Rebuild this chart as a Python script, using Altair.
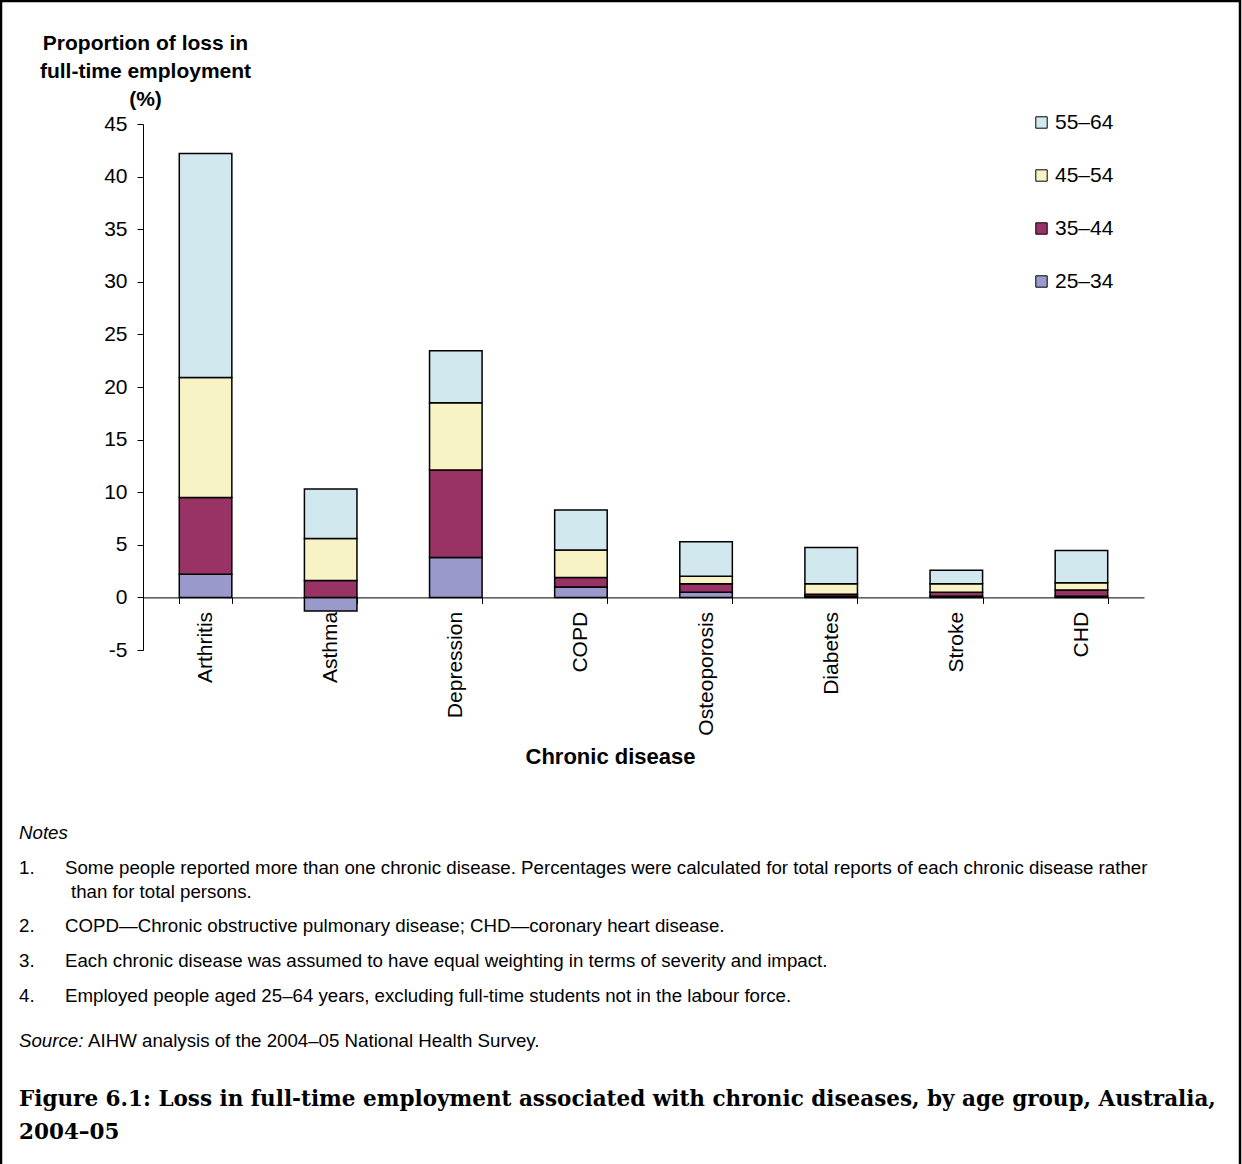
import altair as alt
import pandas as pd

categories = ["Arthritis", "Asthma", "Depression", "COPD", "Osteoporosis", "Diabetes", "Stroke", "CHD"]
age_groups = ["25–34", "35–44", "45–54", "55–64"]
v25_34 = [2.2, -1.3, 3.8, 1.0, 0.5, 0.1, 0.1, 0.1]
v35_44 = [7.3, 1.6, 8.3, 0.9, 0.8, 0.2, 0.4, 0.6]
v45_54 = [11.4, 4.0, 6.4, 2.6, 0.7, 1.0, 0.8, 0.7]
v55_64 = [21.3, 4.7, 4.95, 3.8, 3.3, 3.45, 1.27, 3.07]
colors = ["#9999CC", "#993366", "#F7F3C4", "#D0E8EE"]

series = [v25_34, v35_44, v45_54, v55_64]
rows = []
for gi, (g, vals) in enumerate(zip(age_groups, series)):
    for c, v in zip(categories, vals):
        rows.append({"disease": c, "age": g, "value": v, "rank": gi})
df = pd.DataFrame(rows)

W, H = 1001, 526
PAD_L, PAD_T = 143, 124

FONT = "Liberation Sans"

bars = alt.Chart(df).mark_bar(stroke="black", strokeWidth=1.5).encode(
    x=alt.X("disease:N", sort=categories,
            scale=alt.Scale(paddingInner=0.58, paddingOuter=0.29),
            axis=alt.Axis(title="Chronic disease", labelAngle=-90, labelAlign="right",
                          labelBaseline="middle", labelFontSize=21, labelFont=FONT,
                          labelColor="black", labelPadding=8,
                          tickBand="extent", tickSize=6, tickColor="black",
                          domainColor="black", offset=-52.6,
                          titleFont=FONT, titleFontSize=22, titleFontWeight="bold",
                          titleColor="black", titleX=467, titleY=159,
                          titleBaseline="middle", titleAlign="center")),
    y=alt.Y("value:Q", stack="zero",
            scale=alt.Scale(domain=[-5, 45], nice=False, zero=False),
            axis=alt.Axis(values=list(range(-5, 46, 5)), grid=False, tickSize=6,
                          tickColor="black", domainColor="black",
                          labelExpr="'' + datum.value",
                          labelFontSize=21, labelFont=FONT, labelColor="black",
                          labelPadding=10,
                          title=["Proportion of loss in", "full-time employment", "(%)"],
                          titleAngle=0, titleAlign="center", titleBaseline="top",
                          titleX=2, titleY=-92, titleLineHeight=28,
                          titleFont=FONT, titleFontSize=21, titleFontWeight="bold",
                          titleColor="black")),
    color=alt.Color("age:N",
                    scale=alt.Scale(domain=age_groups[::-1], range=colors[::-1]),
                    legend=alt.Legend(title=None, orient="none", legendX=888, legendY=-12,
                                      symbolType="square", symbolSize=130,
                                      symbolStrokeColor="black", symbolStrokeWidth=1,
                                      symbolOpacity=1,
                                      labelFontSize=21, labelFont=FONT, labelColor="black",
                                      rowPadding=31, labelOffset=3)),
    order=alt.Order("rank:Q"),
)

one = pd.DataFrame({"k": [0]})


def txt(text, x, y, size=18.7, style="normal", weight="normal", font=FONT):
    return alt.Chart(one).mark_text(
        text=text, align="left", baseline="middle", fontSize=size, font=font,
        fontStyle=style, fontWeight=weight, color="black"
    ).encode(x=alt.value(x), y=alt.value(y))


ox, oy = -PAD_L, -PAD_T
layers = [bars]
layers.append(txt("Notes", 19 + ox, 833 + oy, style="italic"))
notes = [
    ("1.", "Some people reported more than one chronic disease. Percentages were calculated for total reports of each chronic disease rather", 868),
    ("2.", "COPD—Chronic obstructive pulmonary disease; CHD—coronary heart disease.", 926),
    ("3.", "Each chronic disease was assumed to have equal weighting in terms of severity and impact.", 961),
    ("4.", "Employed people aged 25–64 years, excluding full-time students not in the labour force.", 996),
]
for num, t, y in notes:
    layers.append(txt(num, 19 + ox, y + oy))
    layers.append(txt(t, 65 + ox, y + oy))
layers.append(txt("than for total persons.", 71 + ox, 892 + oy))
layers.append(txt("Source:", 19 + ox, 1041 + oy, style="italic"))
layers.append(txt("AIHW analysis of the 2004–05 National Health Survey.", 88 + ox, 1041 + oy))
layers.append(txt("Figure 6.1: Loss in full-time employment associated with chronic diseases, by age group, Australia,",
                  19 + ox, 1100 + oy, size=21.5, weight="bold", font="DejaVu Serif"))
layers.append(txt("2004–05", 19 + ox, 1133 + oy, size=21.5, weight="bold", font="DejaVu Serif"))

border = alt.Chart(one).mark_rect(fill=None, stroke="black", strokeWidth=2.5).encode(
    x=alt.value(1 + ox), y=alt.value(1 + oy), x2=alt.value(1240 + ox), y2=alt.value(1180 + oy)
)
layers.append(border)

chart = alt.layer(*layers).properties(
    width=W, height=H,
    autosize=alt.AutoSizeParams(type="none"),
    padding={"left": PAD_L, "top": PAD_T, "right": 1242 - PAD_L - W, "bottom": 1164 - PAD_T - H},
    background="white",
).configure_view(stroke=None)

chart.save("out.html", embed_options={"renderer": "svg", "actions": False})
